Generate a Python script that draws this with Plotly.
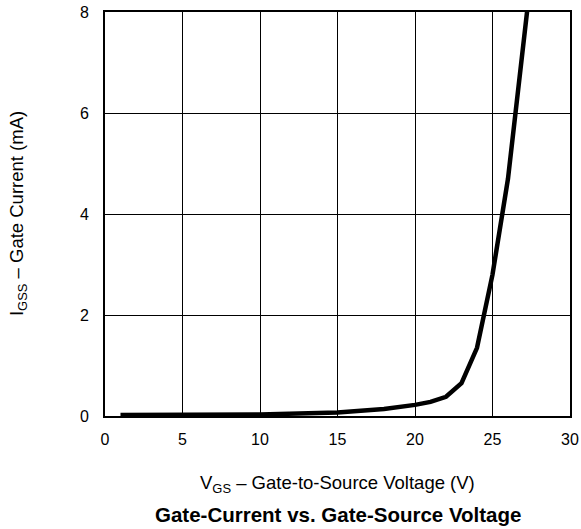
import plotly.graph_objects as go

vgs = [1, 5, 10, 15, 17, 18, 20, 21, 22, 23, 24, 25, 26, 27, 27.6]
igss = [0.02, 0.02, 0.03, 0.07, 0.12, 0.14, 0.22, 0.28, 0.38, 0.65, 1.35, 2.8, 4.7, 7.25, 9.0]

x_ticks = [0, 5, 10, 15, 20, 25, 30]
y_ticks = [0, 2, 4, 6, 8]

font = "Liberation Sans, Arial, Helvetica, sans-serif"

fig = go.Figure()
fig.add_trace(go.Scatter(x=vgs, y=igss, mode="lines",
                         line=dict(color="black", width=4.5), showlegend=False))

fig.update_layout(
    width=581, height=529,
    margin=dict(l=105, r=11, t=12, b=113),
    paper_bgcolor="white", plot_bgcolor="white",
    font=dict(family=font, size=16, color="black"),
    xaxis=dict(range=[0, 30], tickvals=x_ticks, showgrid=True, gridcolor="black",
               gridwidth=1, showline=True, linecolor="black", linewidth=2, mirror=True,
               ticks="", zeroline=False, ticklabelstandoff=8, automargin=False,
               tickfont=dict(size=16)),
    yaxis=dict(range=[0, 8], tickvals=y_ticks, showgrid=True, gridcolor="black",
               gridwidth=1, showline=True, linecolor="black", linewidth=2, mirror=True,
               ticks="", zeroline=False, ticklabelstandoff=11, automargin=False,
               tickfont=dict(size=16)),
    annotations=[
        dict(text="V<sub>GS</sub> – Gate-to-Source Voltage (V)", x=0.5, y=-0.168,
             xref="paper", yref="paper", showarrow=False, font=dict(size=18.5, family=font),
             xanchor="center", yanchor="middle"),
        dict(text="<b>Gate-Current vs. Gate-Source Voltage</b>", x=0.5, y=-0.245,
             xref="paper", yref="paper", showarrow=False, font=dict(size=20.5, family=font),
             xanchor="center", yanchor="middle"),
        dict(text="I<sub>GSS</sub> – Gate Current (mA)", x=-0.187, y=0.5,
             xref="paper", yref="paper", showarrow=False, textangle=-90,
             font=dict(size=18.5, family=font), xanchor="center", yanchor="middle"),
    ],
)

fig.write_html("out.html", config={"displayModeBar": False},
               post_script="document.body.style.margin='0';document.body.style.overflow='hidden';")
